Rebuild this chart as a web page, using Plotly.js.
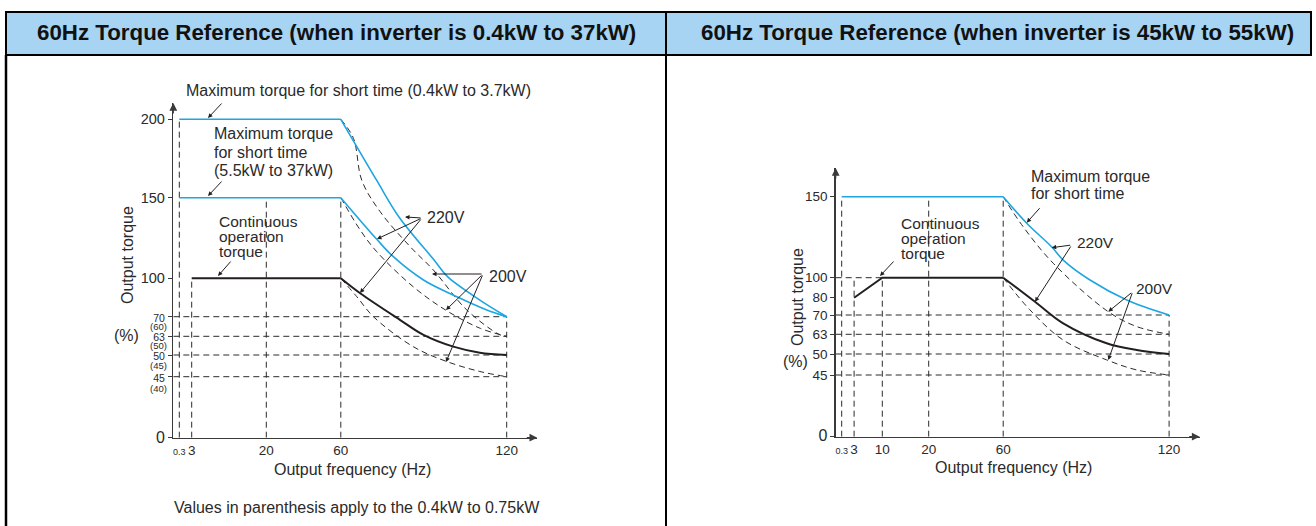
<!DOCTYPE html>
<html><head><meta charset="utf-8">
<script src="https://cdn.plot.ly/plotly-3.0.1.min.js"></script>
<style>html,body{margin:0;padding:0;background:#fff;} #chart{width:1316px;height:526px;}</style>
</head><body><div id="chart"></div>
<script>
// ================= DATA =================
const panelTitles = ['60Hz Torque Reference (when inverter is 0.4kW to 37kW)',
                     '60Hz Torque Reference (when inverter is 45kW to 55kW)'];
const xTitle = 'Output frequency (Hz)';
const yTitle = 'Output torque';
const yUnit = '(%)';
const noteLeft = 'Values in parenthesis apply to the 0.4kW to 0.75kW';

// Left chart (0.4kW to 37kW)
const freqTicksL = [0.3, 3, 20, 60, 120];
const torqueTicksL = [0, 45, 50, 63, 70, 100, 150, 200];
const parenLabelsL = ['(60)', '(50)', '(45)', '(40)'];
const refFreqL = [0.3, 3, 20, 60, 120];
const refFreqTopL = [200, 100, 150, 150, 70];
const refTorqueL = [70, 63, 50, 45];
const maxShortA_hz = [0.3, 60, 73, 81.1, 93.8, 98.6, 110.3, 120];
const maxShortA_tq = [200, 200, 161, 137.9, 111.2, 101, 83, 70];
const maxShortB_hz = [0.3, 60, 73, 79, 89.9, 102, 112.8, 120];
const maxShortB_tq = [150, 150, 124.2, 113.4, 98.7, 85.6, 75.3, 70];
const contL_hz = [3, 60, 67, 81.5, 89.9, 100.7, 110.3, 120];
const contL_tq = [100, 100, 88.3, 68.8, 63.5, 55.8, 51.6, 50];
const v200A_hz = [60, 64.6, 67.6, 74.2, 85.1, 93.5, 105.6, 117.6, 120];
const v200A_tq = [200, 187.8, 161, 141.4, 119.6, 105.1, 75.2, 63.5, 63];
const v200B_hz = [60, 67, 73, 86.2, 97.9, 110.3, 120];
const v200B_tq = [150, 130, 116.5, 93.4, 75.2, 65.9, 63];
const v200C_hz = [60, 65.8, 71.8, 86.2, 98.3, 110.3, 120];
const v200C_tq = [100, 85.6, 70, 55.8, 48.5, 46.2, 45];

// Right chart (45kW to 55kW)
const freqTicksR = [0.3, 3, 10, 20, 60, 120];
const torqueTicksR = [0, 45, 50, 63, 70, 80, 100, 150];
const refFreqR = [0.3, 3, 10, 20, 60, 120];
const refFreqTopR = [150, 100, 100, 150, 150, 70];
const refTorqueR = [100, 70, 63, 50, 45];
const refTorqueEndR = [10, 120, 120, 120, 120];
const maxShortR_hz = [0.3, 60, 68.5, 77.5, 81.7, 91.4, 104.7, 120];
const maxShortR_tq = [150, 150, 133.6, 119.1, 110.9, 97.7, 78.7, 70];
const contR_hz = [3, 10, 60, 71.5, 81.7, 97.4, 108.3, 120];
const contR_tq = [80, 100, 100, 77.7, 67, 57.1, 52.6, 50];
const v200R1_hz = [60, 67.2, 78.1, 98, 108.3, 120];
const v200R1_tq = [150, 131.5, 108.9, 71.9, 65.8, 63];
const v200R2_hz = [60, 69.7, 81.7, 97.4, 108.3, 120];
const v200R2_tq = [100, 72.9, 59.2, 48.6, 46.2, 45];

// ================= SCALES (schematic, piecewise axes) =================
const W = 1316, H = 526;
function piecewise(srcs, dsts) {
  return function (v) {
    if (v <= srcs[0]) return dsts[0];
    for (let i = 1; i < srcs.length; i++) {
      if (v <= srcs[i]) {
        const t = (v - srcs[i - 1]) / (srcs[i] - srcs[i - 1]);
        return dsts[i - 1] + t * (dsts[i] - dsts[i - 1]);
      }
    }
    const n = srcs.length - 1;
    return dsts[n] + (v - srcs[n]) * (dsts[n] - dsts[n - 1]) / (srcs[n] - srcs[n - 1]);
  };
}
const mapX = piecewise([0, 0.3, 3, 10, 20, 60, 120], [0, 6, 18.4, 46.6, 93, 167.5, 333.4]);
const mapYL = piecewise([0, 45, 50, 63, 70, 100, 150, 200], [0, 61, 82.7, 101.4, 121, 159.4, 240, 318.4]);
const mapYR = piecewise([0, 45, 50, 63, 70, 80, 100, 150], [0, 61.7, 82.7, 102.4, 121.7, 139, 159, 240]);

const BLUE = '#1ea6e2', INK = '#231f20', AX = '#3a3a3a', TXT = '#2a2a2a';
const DASH = '6px,4px';
const FONT = 'Liberation Sans, Arial, sans-serif';

// panel geometry (pixels)
const L = {ox: 173.3, oy: 437.7, xlen: 364, ylen: 334.7};
const R = {ox: 835.7, oy: 436.7, xlen: 364, ylen: 268.7};

function px(x) { return x / W; }
function py(y) { return 1 - y / H; }

const traces = [];
function line(hz, tq, mapY, xa, ya, color, width, dash, shape) {
  traces.push({type: 'scatter', mode: 'lines', x: hz.map(mapX), y: tq.map(mapY),
    xaxis: xa, yaxis: ya, hoverinfo: 'skip', showlegend: false,
    line: {color: color, width: width, dash: dash || 'solid', shape: shape || 'linear', smoothing: 1}});
}
function curve(hz, tq, mapY, xa, ya, color, width, dash) {
  const k = hz.indexOf(60);
  if (k > 0) line(hz.slice(0, k + 1), tq.slice(0, k + 1), mapY, xa, ya, color, width, dash, 'linear');
  line(hz.slice(k), tq.slice(k), mapY, xa, ya, color, width, dash, 'spline');
}
function refLines(vf, vtop, ht, hend, mapY, xa, ya) {
  const xs = [], ys = [];
  vf.forEach((f, i) => { xs.push(mapX(f), mapX(f), null); ys.push(0, mapY(vtop[i]), null); });
  ht.forEach((t, i) => { xs.push(0, mapX(hend[i]), null); ys.push(mapY(t), mapY(t), null); });
  traces.push({type: 'scatter', mode: 'lines', x: xs, y: ys, xaxis: xa, yaxis: ya,
    hoverinfo: 'skip', showlegend: false, connectgaps: false,
    line: {color: '#2b2b2b', width: 1, dash: DASH}});
}

// Left chart
refLines(refFreqL, refFreqTopL, refTorqueL, refTorqueL.map(() => 120), mapYL, 'x', 'y');
curve(v200A_hz, v200A_tq, mapYL, 'x', 'y', '#2b2b2b', 1, DASH);
curve(v200B_hz, v200B_tq, mapYL, 'x', 'y', '#2b2b2b', 1, DASH);
curve(v200C_hz, v200C_tq, mapYL, 'x', 'y', '#2b2b2b', 1, DASH);
curve(maxShortA_hz, maxShortA_tq, mapYL, 'x', 'y', BLUE, 1.6);
curve(maxShortB_hz, maxShortB_tq, mapYL, 'x', 'y', BLUE, 1.6);
curve(contL_hz, contL_tq, mapYL, 'x', 'y', INK, 2);

// Right chart
refLines(refFreqR, refFreqTopR, refTorqueR, refTorqueEndR, mapYR, 'x2', 'y2');
curve(v200R1_hz, v200R1_tq, mapYR, 'x2', 'y2', '#2b2b2b', 1, DASH);
curve(v200R2_hz, v200R2_tq, mapYR, 'x2', 'y2', '#2b2b2b', 1, DASH);
curve(maxShortR_hz, maxShortR_tq, mapYR, 'x2', 'y2', BLUE, 1.6);
curve(contR_hz, contR_tq, mapYR, 'x2', 'y2', INK, 2);

function sz(t, s) { return '<span style="font-size:' + s + 'px">' + t + '</span>'; }
function yTickText(ticks, smallSet, small) {
  return ticks.map(t => t === 0 ? sz('0', 16) : (smallSet.indexOf(t) >= 0 ? sz(String(t), small) : String(t)));
}
function xTickText(ticks) { return ticks.map(t => t === 0.3 ? sz('0.3', 9) : String(t)); }

function xaxisDef(P, size) {
  return {domain: [px(P.ox), px(P.ox + P.xlen)], range: [0, P.xlen], showgrid: false, zeroline: false,
    showline: true, linecolor: AX, linewidth: 1.5, ticks: '', fixedrange: true,
    tickfont: {family: FONT, size: size, color: TXT}};
}
function yaxisDef(P, anchor, size) {
  return {domain: [py(P.oy), py(P.oy - P.ylen)], range: [0, P.ylen], showgrid: false, zeroline: false,
    showline: true, linecolor: AX, linewidth: 1.5, ticks: 'outside', ticklen: 4, tickcolor: AX, tickwidth: 1,
    anchor: anchor, fixedrange: true,
    tickfont: {family: FONT, size: size, color: TXT}};
}
const xaxis = Object.assign(xaxisDef(L, 13.5), {anchor: 'y', tickmode: 'array',
  tickvals: freqTicksL.map(mapX), ticktext: xTickText(freqTicksL)});
const yaxis = Object.assign(yaxisDef(L, 'x', 14.5), {tickmode: 'array',
  tickvals: torqueTicksL.map(mapYL), ticktext: yTickText(torqueTicksL, [45, 50, 63, 70], 10.5)});
const xaxis2 = Object.assign(xaxisDef(R, 13.5), {anchor: 'y2', tickmode: 'array',
  tickvals: freqTicksR.map(mapX), ticktext: xTickText(freqTicksR)});
const yaxis2 = Object.assign(yaxisDef(R, 'x2', 13.5), {tickmode: 'array',
  tickvals: torqueTicksR.map(mapYR), ticktext: yTickText(torqueTicksR, [], 13.5)});

const ann = [];
function text(t, x, y, size, anchor, extra) {
  ann.push(Object.assign({text: t, x: px(x), y: py(y), xref: 'paper', yref: 'paper', showarrow: false,
    xanchor: anchor || 'left', yanchor: 'middle', font: {family: FONT, size: size, color: TXT}}, extra || {}));
}
function arrow(tipX, tipY, tailX, tailY) {
  ann.push({text: '', x: px(tipX), y: py(tipY), xref: 'paper', yref: 'paper', showarrow: true,
    ax: tailX - tipX, ay: tailY - tipY, arrowhead: 2, arrowsize: 0.9, arrowwidth: 1, arrowcolor: INK,
    standoff: 0, startstandoff: 0});
}

// headers
text('<b>' + panelTitles[0] + '</b>', 336, 32.5, 22.3, 'center', {font: {family: FONT, size: 22.3, color: '#111'}});
text('<b>' + panelTitles[1] + '</b>', 997, 32.5, 22.3, 'center', {font: {family: FONT, size: 22.3, color: '#111'}});

// left texts
text('Maximum torque for short time (0.4kW to 3.7kW)', 184, 91, 16);
text('Maximum torque', 212, 133, 16);
text('for short time', 212, 152, 16);
text('(5.5kW to 37kW)', 212, 170.5, 16);
text('Continuous', 217, 222, 15.5);
text('operation', 217, 236.5, 15.5);
text('torque', 217, 251, 15.5);
text('220V', 425, 217, 16);
text('200V', 487, 276, 16);
const parenPos = [(mapYL(70) + mapYL(63)) / 2, (mapYL(63) + mapYL(50)) / 2, (mapYL(50) + mapYL(45)) / 2, mapYL(45) - 12];
parenLabelsL.forEach((p, i) => text(p, 158, L.oy - parenPos[i] - 0.5, 9.5, 'center'));
text(yTitle, 127, 255, 16, 'center', {textangle: -90});
text(yUnit, 126, 335, 16, 'center');
text(xTitle, 352, 469, 16, 'center');
text(noteLeft, 357, 507, 16, 'center');
arrow(208, 118, 223, 102);
arrow(208, 196, 223, 180);
arrow(218, 276, 232, 260);
arrow(405, 217, 422, 218);
arrow(377, 239, 422, 218);
arrow(360, 293, 422, 218);
arrow(432, 274, 483, 274);
arrow(446, 310, 483, 274);
arrow(446, 362, 483, 274);

// right texts
text('Maximum torque', 1029, 176.5, 16);
text('for short time', 1029, 194, 16);
text('Continuous', 899, 223.5, 15.5);
text('operation', 899, 238.5, 15.5);
text('torque', 899, 253.5, 15.5);
text('220V', 1075, 242.5, 15.5);
text('200V', 1134, 288.5, 15.5);
text(yTitle, 797, 297, 16, 'center', {textangle: -90});
text(yUnit, 795, 361, 16, 'center');
text(xTitle, 1013, 467, 16, 'center');
arrow(1026.7, 222.7, 1041, 206.7);
arrow(880, 276, 895, 260);
arrow(1051.7, 247.7, 1071.7, 245);
arrow(1035, 301.7, 1071.7, 245);
arrow(1108.3, 311.7, 1132.7, 291.7);
arrow(1108.3, 360, 1132.7, 291.7);

// axis arrowheads
[[L.ox + L.xlen, L.oy, -12, 0], [L.ox, L.oy - L.ylen, 0, 12], [R.ox + R.xlen, R.oy, -12, 0], [R.ox, R.oy - R.ylen, 0, 12]]
  .forEach(a => ann.push({text: '', x: px(a[0]), y: py(a[1]), xref: 'paper', yref: 'paper', showarrow: true,
    ax: a[2], ay: a[3], arrowhead: 2, arrowsize: 1.3, arrowwidth: 1.2, arrowcolor: AX, standoff: 0}));

const shapes = [
  {type: 'rect', xref: 'paper', yref: 'paper', x0: px(6), x1: px(666), y0: py(55), y1: py(12), fillcolor: '#a6d4f2', line: {color: '#000', width: 2}, layer: 'below'},
  {type: 'rect', xref: 'paper', yref: 'paper', x0: px(666), x1: px(1311), y0: py(55), y1: py(12), fillcolor: '#a6d4f2', line: {color: '#000', width: 2}, layer: 'below'},
  {type: 'line', xref: 'paper', yref: 'paper', x0: px(6), x1: px(6), y0: py(55), y1: 0, line: {color: '#000', width: 2.5}},
  {type: 'line', xref: 'paper', yref: 'paper', x0: px(666), x1: px(666), y0: py(55), y1: 0, line: {color: '#000', width: 2}}
];

const layout = {width: W, height: H, margin: {l: 0, r: 0, t: 0, b: 0}, paper_bgcolor: '#fff', plot_bgcolor: 'rgba(0,0,0,0)',
  showlegend: false, hovermode: false, xaxis: xaxis, yaxis: yaxis, xaxis2: xaxis2, yaxis2: yaxis2,
  annotations: ann, shapes: shapes, font: {family: FONT, color: TXT}};
Plotly.newPlot('chart', traces, layout, {staticPlot: true, displayModeBar: false});
</script></body></html>
